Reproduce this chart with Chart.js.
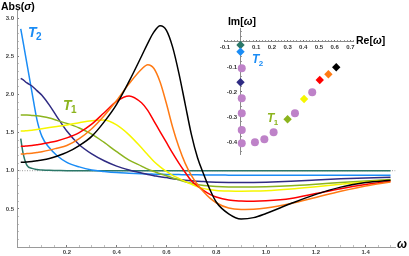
<!DOCTYPE html>
<html>
<head>
<meta charset="utf-8">
<script src="https://cdn.jsdelivr.net/npm/chart.js@4.4.1/dist/chart.umd.min.js"></script>
<style>
  html, body { margin: 0; padding: 0; background: #fff; }
  #wrap { position: relative; width: 409px; height: 256px; }
  #main { position: absolute; left: 0; top: 0; }
  #inset { position: absolute; left: 200px; top: 10px; }
</style>
</head>
<body>
<div id="wrap">
  <canvas id="main" width="409" height="256"></canvas>
  <canvas id="inset" width="205" height="160"></canvas>
</div>
<script>
// frequency grid (omega) and |sigma| for each curve
const omega = [0.015, 0.025, 0.04, 0.06, 0.08, 0.1, 0.13, 0.16, 0.2, 0.25, 0.3, 0.35, 0.4, 0.45, 0.5, 0.525, 0.55, 0.575, 0.6, 0.625, 0.65, 0.675, 0.7, 0.725, 0.75, 0.775, 0.8, 0.85, 0.9, 0.95, 1.0, 1.1, 1.2, 1.3, 1.4, 1.5];

const sigmaBlack  = [1.11, 1.11, 1.115, 1.12, 1.13, 1.14, 1.16, 1.19, 1.24, 1.33, 1.45, 1.64, 1.87, 2.17, 2.50, 2.67, 2.82, 2.90, 2.84, 2.62, 2.28, 1.88, 1.48, 1.17, 0.95, 0.75, 0.59, 0.435, 0.368, 0.385, 0.44, 0.57, 0.69, 0.785, 0.845, 0.875];
const sigmaOrange = [1.22, 1.22, 1.225, 1.23, 1.24, 1.25, 1.27, 1.295, 1.33, 1.42, 1.55, 1.72, 1.92, 2.14, 2.33, 2.39, 2.34, 2.16, 1.88, 1.57, 1.31, 1.10, 0.94, 0.82, 0.72, 0.64, 0.58, 0.51, 0.493, 0.495, 0.51, 0.57, 0.65, 0.73, 0.80, 0.852];
const sigmaRed    = [1.32, 1.32, 1.325, 1.33, 1.34, 1.35, 1.37, 1.39, 1.43, 1.50, 1.61, 1.76, 1.91, 1.98, 1.89, 1.79, 1.65, 1.51, 1.37, 1.23, 1.10, 0.98, 0.87, 0.80, 0.74, 0.69, 0.655, 0.615, 0.603, 0.60, 0.605, 0.635, 0.70, 0.765, 0.82, 0.862];
const sigmaYellow = [1.52, 1.52, 1.525, 1.53, 1.54, 1.55, 1.565, 1.58, 1.60, 1.63, 1.655, 1.665, 1.60, 1.47, 1.30, 1.21, 1.12, 1.05, 0.99, 0.94, 0.90, 0.86, 0.825, 0.79, 0.765, 0.75, 0.742, 0.735, 0.732, 0.733, 0.738, 0.76, 0.79, 0.822, 0.852, 0.875];
const sigmaGreen  = [1.73, 1.73, 1.73, 1.725, 1.72, 1.71, 1.69, 1.66, 1.62, 1.56, 1.48, 1.37, 1.25, 1.14, 1.06, 1.02, 0.99, 0.96, 0.935, 0.905, 0.88, 0.855, 0.835, 0.818, 0.807, 0.799, 0.794, 0.788, 0.786, 0.787, 0.79, 0.802, 0.822, 0.845, 0.866, 0.885];
const sigmaNavy   = [2.21, 2.19, 2.15, 2.11, 2.05, 1.99, 1.86, 1.71, 1.52, 1.34, 1.22, 1.13, 1.06, 1.01, 0.97, 0.95, 0.935, 0.92, 0.91, 0.895, 0.885, 0.875, 0.87, 0.863, 0.858, 0.853, 0.85, 0.847, 0.846, 0.847, 0.85, 0.862, 0.877, 0.893, 0.905, 0.915];
const sigmaBlue   = [2.86, 2.68, 2.40, 2.03, 1.67, 1.45, 1.30, 1.20, 1.11, 1.05, 1.01, 0.99, 0.975, 0.967, 0.96, 0.957, 0.955, 0.953, 0.951, 0.95, 0.949, 0.948, 0.947, 0.946, 0.945, 0.944, 0.943, 0.942, 0.941, 0.94, 0.94, 0.94, 0.94, 0.94, 0.94, 0.94];
const sigmaTeal   = [1.42, 1.22, 1.07, 1.03, 1.015, 1.01, 1.005, 1.003, 1.0, 1.0, 1.0, 1.0, 1.0, 1.0, 1.0, 1.0, 1.0, 1.0, 1.0, 1.0, 1.0, 1.0, 1.0, 1.0, 1.0, 1.0, 1.0, 1.0, 1.0, 1.0, 1.0, 1.0, 1.0, 1.0, 1.0, 1.0];

// inset: poles in the complex omega plane
const poleRe = [0, 0, 0, 0.30, 0.405, 0.505, 0.56, 0.61];
const poleIm = [-0.012, -0.039, -0.161, -0.309, -0.228, -0.152, -0.129, -0.101];
const otherRe = [0.008, 0.008, 0.008, 0.008, 0.008, 0.092, 0.152, 0.211, 0.347, 0.457];
const otherIm = [-0.105, -0.225, -0.285, -0.352, -0.405, -0.401, -0.389, -0.361, -0.285, -0.201];

const BLACK = '#000000', ORANGE = '#ff7a14', RED = '#ff0000', YELLOW = '#f6f600',
      GREEN = '#8cb41e', NAVY = '#2f2b83', BLUE = '#1a8cf5', TEAL = '#2b7768', PURPLE = '#be82c8';
const poleColors = [TEAL, BLUE, NAVY, GREEN, YELLOW, RED, ORANGE, BLACK];

const FAMILY = "'Liberation Sans', Arial, sans-serif";
const tickFont = { family: FAMILY, size: 6, weight: 'bold' };
const near = (v, step) => Math.abs(v / step - Math.round(v / step)) < 1e-6;

function curve(ys, color) {
    return {
        data: omega.map((w, i) => ({ x: w, y: ys[i] })),
        borderColor: color,
        borderWidth: 1.5,
        pointRadius: 0,
        cubicInterpolationMode: 'monotone',
        fill: false
    };
}

function drawRuns(ctx, x, y, runs) {
    let cx = x;
    runs.forEach(r => {
        ctx.font = r.font;
        ctx.fillStyle = r.color || '#000';
        ctx.fillText(r.text, cx, y);
        cx += ctx.measureText(r.text).width;
    });
}

function drawT(ctx, x, y, sub, color, size) {
    ctx.fillStyle = color;
    ctx.font = `italic bold ${size}px ${FAMILY}`;
    ctx.fillText('T', x, y);
    const w = ctx.measureText('T').width;
    ctx.font = `bold ${Math.round(size * 0.7)}px ${FAMILY}`;
    ctx.fillText(sub, x + w - 0.5, y + size * 0.22);
}

const mainLabels = {
    id: 'mainLabels',
    afterDraw(chart) {
        const ctx = chart.ctx;
        const sx = chart.scales.x, sy = chart.scales.y;
        ctx.save();
        ctx.textBaseline = 'alphabetic';
        drawRuns(ctx, 1, 10, [
            { text: 'Abs(', font: `bold 10.5px ${FAMILY}` },
            { text: 'σ', font: `italic bold 10.5px ${FAMILY}` },
            { text: ')', font: `bold 10.5px ${FAMILY}` }
        ]);
        drawRuns(ctx, 397, 248, [{ text: 'ω', font: `italic bold 12px ${FAMILY}` }]);
        drawT(ctx, sx.getPixelForValue(0.044), sy.getPixelForValue(2.75), '2', BLUE, 14);
        drawT(ctx, sx.getPixelForValue(0.185), sy.getPixelForValue(1.80), '1', GREEN, 14);
        ctx.restore();
    }
};

const dotted = {
    data: [{ x: 0, y: 1 }, { x: 1.52, y: 1 }],
    borderColor: '#9a9a9a',
    borderWidth: 1,
    borderDash: [1, 1.5],
    pointRadius: 0
};

const mainChart = new Chart(document.getElementById('main'), {
    type: 'line',
    data: {
        datasets: [
            curve(sigmaBlack, BLACK),
            curve(sigmaOrange, ORANGE),
            curve(sigmaRed, RED),
            curve(sigmaYellow, YELLOW),
            curve(sigmaGreen, GREEN),
            curve(sigmaNavy, NAVY),
            curve(sigmaBlue, BLUE),
            curve(sigmaTeal, TEAL),
            dotted
        ]
    },
    options: {
        responsive: false,
        animation: false,
        devicePixelRatio: 1,
        layout: { padding: { left: 0, right: 13.5, top: 10.5, bottom: 0 } },
        plugins: { legend: { display: false }, tooltip: { enabled: false } },
        scales: {
            x: {
                type: 'linear', min: 0, max: 1.52,
                border: { color: '#9a9a9a', width: 1 },
                grid: {
                    drawOnChartArea: false, tickLength: -2,
                    tickColor: c => (c.tick && near(c.tick.value, 0.2)) ? '#7a7a7a' : '#c0c0c0'
                },
                ticks: {
                    stepSize: 0.05, includeBounds: false, autoSkip: false, maxRotation: 0, minRotation: 0,
                    padding: 4, color: '#444', font: tickFont,
                    callback: v => (v !== 0 && near(v, 0.2)) ? v.toFixed(1) : ''
                },
                afterFit: s => { s.height = 9; }
            },
            y: {
                type: 'linear', min: 0, max: 3.1,
                border: { color: '#9a9a9a', width: 1 },
                grid: {
                    drawOnChartArea: false, tickLength: -2,
                    tickColor: c => (c.tick && near(c.tick.value, 0.5)) ? '#7a7a7a' : '#c0c0c0'
                },
                ticks: {
                    stepSize: 0.1, includeBounds: false, autoSkip: false,
                    padding: 5, color: '#444', font: tickFont,
                    callback: v => (v !== 0 && near(v, 0.5)) ? v.toFixed(1) : ''
                },
                afterFit: s => { s.width = 17; }
            }
        }
    },
    plugins: [mainLabels]
});

const insetLabels = {
    id: 'insetLabels',
    afterDraw(chart) {
        const ctx = chart.ctx;
        const sx = chart.scales.x, sy = chart.scales.y;
        ctx.save();
        ctx.textBaseline = 'alphabetic';
        drawRuns(ctx, sx.getPixelForValue(-0.08), sy.getPixelForValue(0.068), [
            { text: 'Im[', font: `bold 10.5px ${FAMILY}` },
            { text: 'ω', font: `italic bold 10.5px ${FAMILY}` },
            { text: ']', font: `bold 10.5px ${FAMILY}` }
        ]);
        drawRuns(ctx, sx.getPixelForValue(0.736), sy.getPixelForValue(-0.008), [
            { text: 'Re[', font: `bold 10.5px ${FAMILY}` },
            { text: 'ω', font: `italic bold 10.5px ${FAMILY}` },
            { text: ']', font: `bold 10.5px ${FAMILY}` }
        ]);
        drawT(ctx, sx.getPixelForValue(0.073), sy.getPixelForValue(-0.084), '2', BLUE, 12);
        drawT(ctx, sx.getPixelForValue(0.169), sy.getPixelForValue(-0.32), '1', GREEN, 12);
        ctx.restore();
    }
};

const insetChart = new Chart(document.getElementById('inset'), {
    type: 'scatter',
    data: {
        datasets: [
            {
                data: poleRe.map((r, i) => ({ x: r, y: poleIm[i] })),
                pointStyle: 'rectRot',
                pointRadius: 4.2,
                pointBorderWidth: 0,
                pointBackgroundColor: poleColors,
                showLine: false
            },
            {
                data: otherRe.map((r, i) => ({ x: r, y: otherIm[i] })),
                pointStyle: 'circle',
                pointRadius: 4,
                pointBorderWidth: 0,
                pointBackgroundColor: PURPLE,
                showLine: false
            }
        ]
    },
    options: {
        responsive: false,
        animation: false,
        devicePixelRatio: 1,
        layout: { padding: { left: 24.8, right: 51.5, top: 18.2, bottom: 15.5 } },
        plugins: { legend: { display: false }, tooltip: { enabled: false } },
        scales: {
            x: {
                type: 'linear', min: -0.1, max: 0.72, position: { y: 0 },
                border: { color: '#8a8a8a', width: 1 },
                grid: {
                    drawOnChartArea: false, tickLength: -2,
                    tickColor: c => (c.tick && near(c.tick.value, 0.1)) ? '#6a6a6a' : '#9a9a9a'
                },
                ticks: {
                    stepSize: 0.02, includeBounds: false, autoSkip: false, maxRotation: 0, minRotation: 0,
                    padding: 4, color: '#333', font: tickFont,
                    callback: v => (Math.abs(v) > 1e-9 && near(v, 0.1)) ? v.toFixed(1) : ''
                }
            },
            y: {
                type: 'linear', min: -0.45, max: 0.055, position: { x: 0 },
                border: { color: '#8a8a8a', width: 1 },
                grid: {
                    drawOnChartArea: false, tickLength: -2,
                    tickColor: c => (c.tick && near(c.tick.value, 0.1)) ? '#6a6a6a' : '#9a9a9a'
                },
                ticks: {
                    stepSize: 0.02, includeBounds: false, autoSkip: false,
                    padding: 2, color: '#333', font: tickFont,
                    callback: v => (Math.abs(v) > 1e-9 && near(v, 0.1)) ? v.toFixed(1) + '  ' : ''
                }
            }
        }
    },
    plugins: [insetLabels]
});
</script>
</body>
</html>
